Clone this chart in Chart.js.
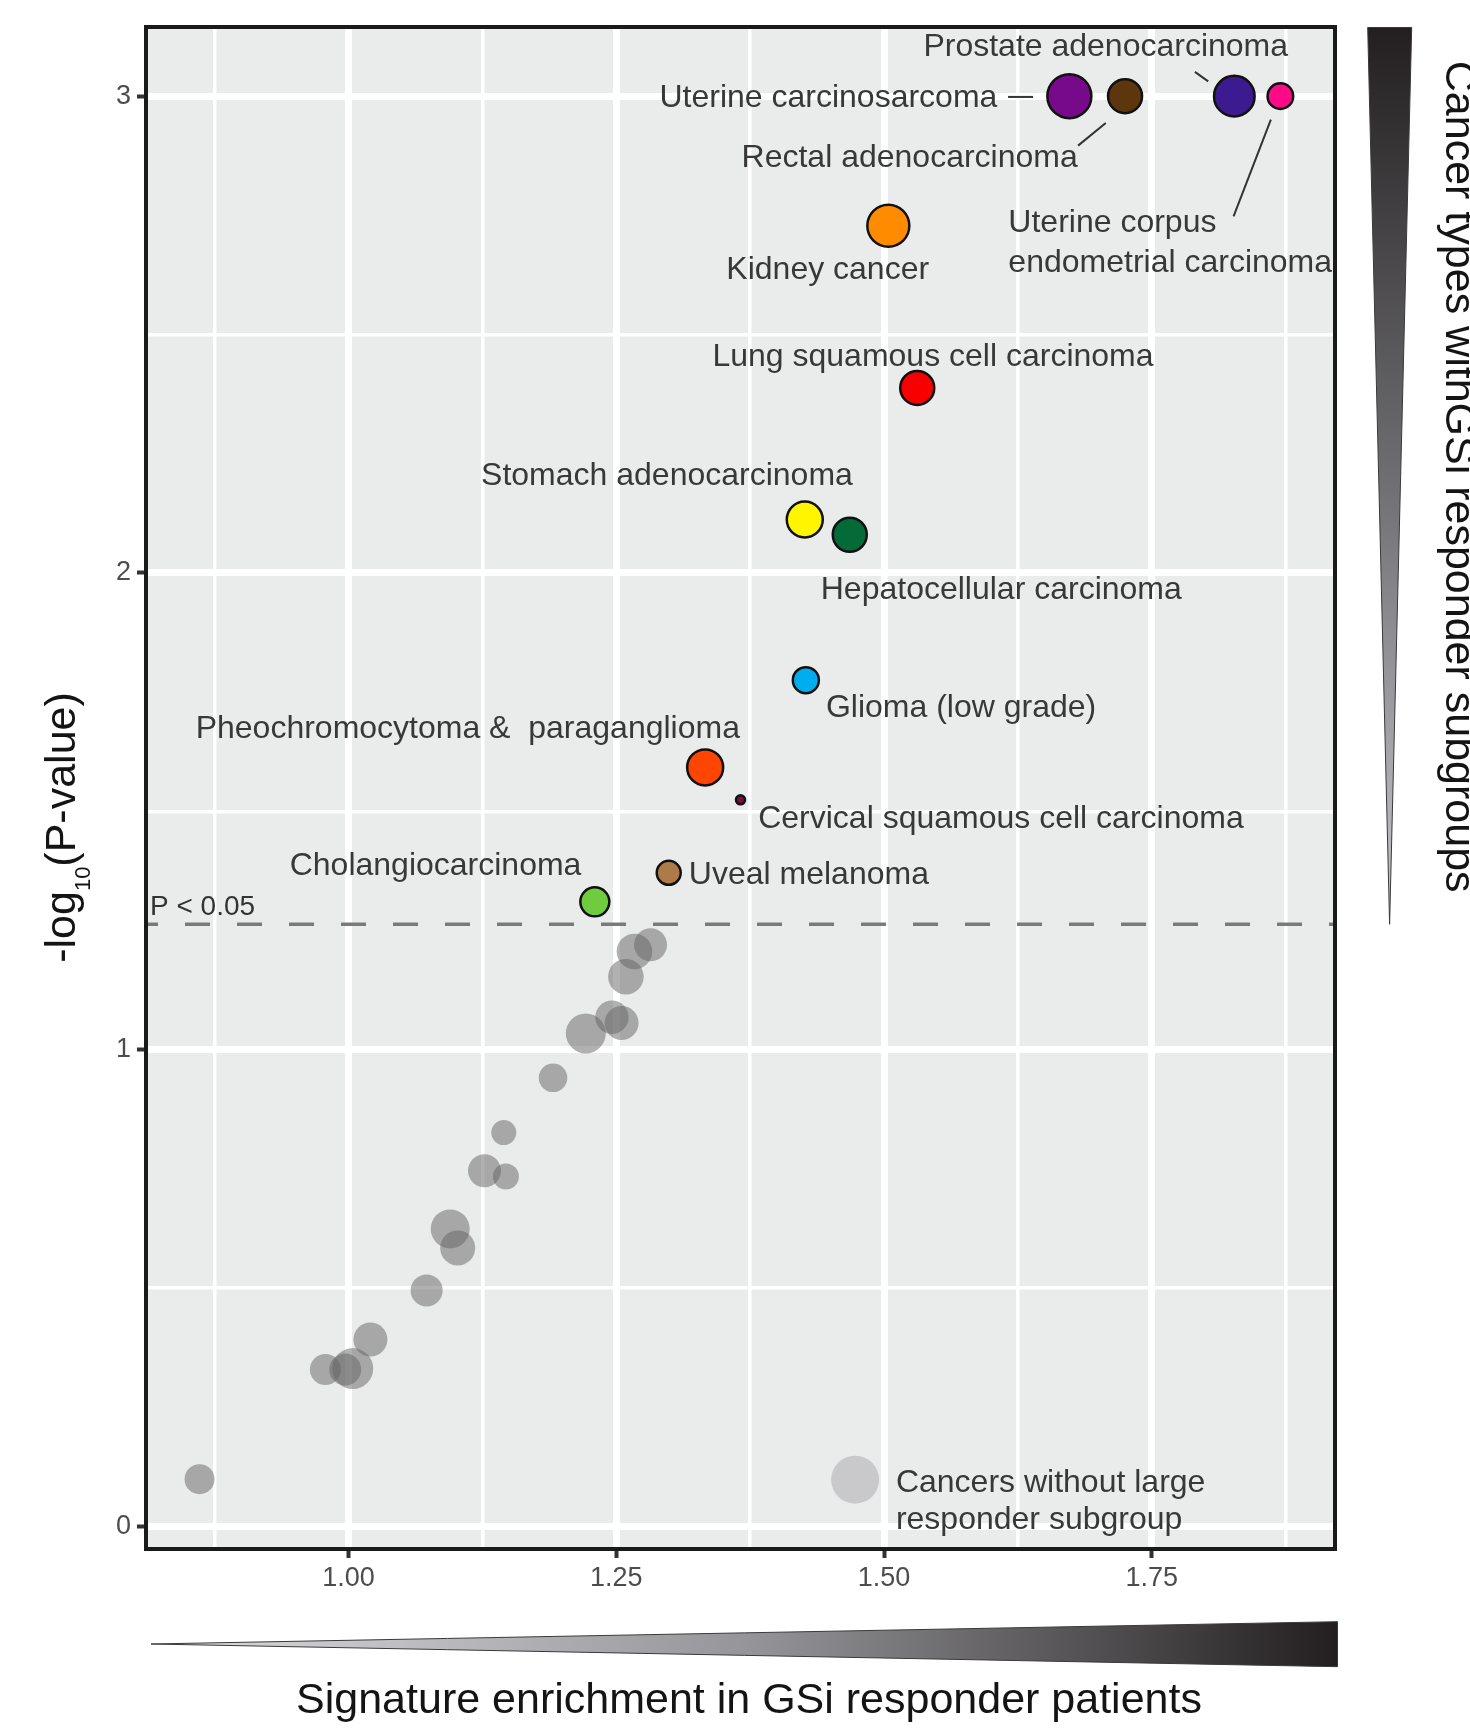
<!DOCTYPE html>
<html>
<head>
<meta charset="utf-8">
<title>GSi responder signature enrichment by cancer type</title>
<script src="https://cdn.jsdelivr.net/npm/chart.js@4.4.1/dist/chart.umd.min.js"></script>
<style>
  html, body { margin: 0; padding: 0; background: #ffffff; }
  #wrap { width: 1470px; height: 1728px; position: relative; }
</style>
</head>
<body>
<div id="wrap"><canvas id="chart"></canvas></div>
<script>
// ---- Cancer types with a large GSi responder subgroup ----
const cancerTypes = [
  'Uterine carcinosarcoma', 'Rectal adenocarcinoma', 'Prostate adenocarcinoma',
  'Uterine corpus endometrial carcinoma', 'Kidney cancer', 'Lung squamous cell carcinoma',
  'Stomach adenocarcinoma', 'Hepatocellular carcinoma', 'Glioma (low grade)',
  'Pheochromocytoma &  paraganglioma', 'Cervical squamous cell carcinoma',
  'Uveal melanoma', 'Cholangiocarcinoma'
];
const enrichment = [1.673, 1.725, 1.827, 1.870, 1.504, 1.531, 1.426, 1.468, 1.427, 1.333, 1.366, 1.299, 1.230];
const negLogP    = [3.000, 3.000, 3.000, 3.000, 2.728, 2.388, 2.112, 2.080, 1.775, 1.592, 1.524, 1.371, 1.310];

// ---- Cancer types without a large responder subgroup ----
const otherEnrichment = [0.861, 0.9785, 0.997, 1.004, 1.0205, 1.073, 1.095, 1.102, 1.127, 1.147, 1.145,
                         1.191, 1.2216, 1.246, 1.255, 1.282, 1.267, 1.259];
const otherNegLogP    = [0.099, 0.329, 0.329, 0.331, 0.392, 0.495, 0.624, 0.584, 0.746, 0.734, 0.826,
                         0.941, 1.034, 1.068, 1.056, 1.220, 1.206, 1.153];

// legend key point and its caption
const legendKeyX = [1.473];
const legendKeyY = [0.098];
const legendCaption = ['Cancers without large', 'responder subgroup'];

// significance threshold line
const thresholdY = 1.263;
const thresholdLabel = 'P < 0.05';

// axes
const xRange = [0.811, 1.921];
const yRange = [-0.0474, 3.145];
const xTickValues = [1.00, 1.25, 1.50, 1.75];
const xTickLabels = ['1.00', '1.25', '1.50', '1.75'];
const xMinorGrid  = [0.875, 1.125, 1.375, 1.625, 1.875];
const yTickValues = [0, 1, 2, 3];
const yTickLabels = ['0', '1', '2', '3'];
const yMinorGrid  = [0.5, 1.5, 2.5];

const xTitle = 'Signature enrichment in GSi responder patients';
const yTitleParts = ['-log', '10', '(P-value)'];
const sideTitle = 'Cancer types withGSi responder subgroups';

// ---- styling ----
const FONT = '"Liberation Sans", Arial, Helvetica, sans-serif';
const typeColors = ['#770A8B', '#5E360E', '#3B1B8F', '#FF0A87', '#FF8C00', '#F80000', '#FFF500',
                    '#046A38', '#00AEEF', '#FF4500', '#7A1040', '#AE7A48', '#6ECC3E'];
const typeRadius = [22, 17, 20.3, 12.8, 21, 17, 18, 17, 13, 18, 4.5, 12, 14.5];
const otherRadius = [15, 15.5, 16, 20.5, 17, 16, 19.5, 17.5, 16.5, 13, 12.5, 14.3, 20, 16.7, 17, 16.5, 17.8, 17.8];

// label placement, pixel offsets from each point (dy = first baseline)
const labelLayout = [
  { align: 'right',  dx: -72,    dy: 10.5,  leader: [-61.3, 0.8, -36.3, 0.8] },
  { align: 'right',  dx: -47.3,  dy: 71.1,  leader: [-19.3, 26.8, -47, 49.5] },
  { align: 'left',   dx: -310.9, dy: -39.9, leader: [-39.4, -24.2, -26.1, -14.8] },
  { align: 'left',   dx: -272,   dy: 135.5, leader: [-9.5, 23.5, -46.8, 120.2], breakAfter: 2 },
  { align: 'center', dx: -60.6,  dy: 52.8 },
  { align: 'left',   dx: -204.8, dy: -22.2 },
  { align: 'left',   dx: -323.7, dy: -34 },
  { align: 'left',   dx: -29,    dy: 64.4 },
  { align: 'left',   dx: 20.1,   dy: 37.3 },
  { align: 'right',  dx: 34.8,   dy: -29 },
  { align: 'left',   dx: 17.7,   dy: 28.3 },
  { align: 'left',   dx: 20.1,   dy: 11.6 },
  { align: 'right',  dx: -13.4,  dy: -27 }
];

function labelLines(name, layout) {
  if (!layout.breakAfter) return [name];
  const w = name.split(' ');
  return [w.slice(0, layout.breakAfter).join(' '), w.slice(layout.breakAfter).join(' ')];
}

const highlighted = cancerTypes.map((name, i) => ({ x: enrichment[i], y: negLogP[i], name }));
const others = otherEnrichment.map((x, i) => ({ x, y: otherNegLogP[i] }));
const legendKey = legendKeyX.map((x, i) => ({ x, y: legendKeyY[i] }));

const isIn = (arr, v) => arr.some(a => Math.abs(a - v) < 1e-9);

const decor = {
  id: 'decor',
  beforeDraw(chart) {
    const { ctx, chartArea: a } = chart;
    ctx.save();
    ctx.fillStyle = '#ffffff';
    ctx.fillRect(0, 0, chart.width, chart.height);
    ctx.fillStyle = '#EAEBEB';
    ctx.fillRect(a.left, a.top, a.right - a.left, a.bottom - a.top);
    ctx.restore();
  },
  beforeDatasetsDraw(chart) {
    const { ctx, chartArea: a, scales } = chart;
    const y = scales.y.getPixelForValue(thresholdY);
    ctx.save();
    ctx.strokeStyle = '#7A7A7A';
    ctx.lineWidth = 3.3;
    ctx.setLineDash([25, 27]);
    ctx.lineDashOffset = 13;
    ctx.beginPath();
    ctx.moveTo(a.left, y);
    ctx.lineTo(a.right, y);
    ctx.stroke();
    ctx.setLineDash([]);
    ctx.fillStyle = '#333333';
    ctx.font = '28px ' + FONT;
    ctx.textAlign = 'left';
    ctx.textBaseline = 'alphabetic';
    ctx.fillText(thresholdLabel, a.left + 4, y - 9.2);
    ctx.restore();
  },
  afterDatasetsDraw(chart) {
    const { ctx, chartArea: a, scales } = chart;
    const sx = scales.x, sy = scales.y;
    ctx.save();
    // panel border
    ctx.strokeStyle = '#1A1A1A';
    ctx.lineWidth = 4;
    ctx.strokeRect(a.left, a.top, a.right - a.left, a.bottom - a.top);

    // point labels and leader lines
    ctx.font = '32px ' + FONT;
    ctx.fillStyle = '#383838';
    ctx.textBaseline = 'alphabetic';
    ctx.strokeStyle = '#333333';
    ctx.lineWidth = 2;
    highlighted.forEach((p, i) => {
      const L = labelLayout[i];
      const px = sx.getPixelForValue(p.x), py = sy.getPixelForValue(p.y);
      ctx.textAlign = L.align;
      labelLines(p.name, L).forEach((line, k) => {
        ctx.fillText(line, px + L.dx, py + L.dy + k * 40.5);
      });
      if (L.leader) {
        ctx.beginPath();
        ctx.moveTo(px + L.leader[0], py + L.leader[1]);
        ctx.lineTo(px + L.leader[2], py + L.leader[3]);
        ctx.stroke();
      }
    });

    // legend caption
    const kx = sx.getPixelForValue(legendKeyX[0]), ky = sy.getPixelForValue(legendKeyY[0]);
    ctx.textAlign = 'left';
    legendCaption.forEach((line, k) => ctx.fillText(line, kx + 40.8, ky + 12.7 + k * 36.6));
    ctx.restore();
  },
  afterDraw(chart) {
    const { ctx, chartArea: a, scales } = chart;
    ctx.save();
    ctx.fillStyle = '#141414';

    // x title
    ctx.font = '43px ' + FONT;
    ctx.textAlign = 'center';
    ctx.textBaseline = 'alphabetic';
    ctx.fillText(xTitle, a.left + 603, a.bottom + 163.5);

    // y title with subscript
    ctx.save();
    ctx.translate(a.left - 71, a.top + 800.5);
    ctx.rotate(-Math.PI / 2);
    const parts = [[yTitleParts[0], 43, 0], [yTitleParts[1], 22, 15], [yTitleParts[2], 43, 0]];
    let total = 0;
    parts.forEach(p => { ctx.font = p[1] + 'px ' + FONT; total += ctx.measureText(p[0]).width; });
    let cx = -total / 2;
    ctx.textAlign = 'left';
    parts.forEach(p => {
      ctx.font = p[1] + 'px ' + FONT;
      ctx.fillText(p[0], cx, p[2]);
      cx += ctx.measureText(p[0]).width;
    });
    ctx.restore();

    // right-hand title (reads top to bottom)
    ctx.save();
    ctx.translate(a.right + 111, a.top + 33.8);
    ctx.rotate(Math.PI / 2);
    ctx.font = '43px ' + FONT;
    ctx.textAlign = 'left';
    ctx.fillText(sideTitle, 0, 0);
    ctx.restore();

    // vertical wedge: narrows down to the significance line
    const tipY = scales.y.getPixelForValue(thresholdY);
    const vg = ctx.createLinearGradient(0, a.top, 0, tipY);
    vg.addColorStop(0, '#231F20');
    vg.addColorStop(0.5, '#6E6E72');
    vg.addColorStop(1, '#C8C8CC');
    ctx.beginPath();
    ctx.moveTo(a.right + 32.7, a.top + 0.5);
    ctx.lineTo(a.right + 76.7, a.top + 0.5);
    ctx.lineTo(a.right + 54.6, tipY);
    ctx.closePath();
    ctx.fillStyle = vg;
    ctx.fill();
    ctx.strokeStyle = '#3A3A3A';
    ctx.lineWidth = 1;
    ctx.stroke();

    // horizontal wedge under the x axis
    const hg = ctx.createLinearGradient(a.left + 5, 0, a.right + 2.5, 0);
    hg.addColorStop(0, '#DCDCDF');
    hg.addColorStop(0.5, '#96969A');
    hg.addColorStop(1, '#231F20');
    ctx.beginPath();
    ctx.moveTo(a.left + 5, a.bottom + 95);
    ctx.lineTo(a.right + 2.5, a.bottom + 72.7);
    ctx.lineTo(a.right + 2.5, a.bottom + 117.7);
    ctx.closePath();
    ctx.fillStyle = hg;
    ctx.fill();
    ctx.stroke();
    ctx.restore();
  }
};

const gridWidth = (majors) => (c) => (c.tick && isIn(majors, c.tick.value)) ? 7 : 3.5;
const tickCol = (majors) => (c) => (c.tick && isIn(majors, c.tick.value)) ? '#333333' : 'rgba(0,0,0,0)';

new Chart(document.getElementById('chart'), {
  type: 'scatter',
  data: {
    datasets: [
      {
        label: 'Cancer types with GSi responder subgroups',
        data: highlighted,
        order: 0,
        pointRadius: typeRadius,
        pointBackgroundColor: typeColors,
        pointBorderColor: '#111111',
        pointBorderWidth: 2.5
      },
      {
        label: 'Legend key',
        data: legendKey,
        order: 1,
        pointRadius: 24,
        pointBackgroundColor: '#C9C9CB',
        pointBorderWidth: 0
      },
      {
        label: 'Cancers without large responder subgroup',
        data: others,
        order: 2,
        pointRadius: otherRadius,
        pointBackgroundColor: 'rgba(100,100,100,0.5)',
        pointBorderWidth: 0
      }
    ]
  },
  options: {
    responsive: true,
    maintainAspectRatio: false,
    devicePixelRatio: 1,
    animation: false,
    events: [],
    layout: { padding: { top: 27, right: 135, left: 0, bottom: 0 } },
    plugins: { legend: { display: false }, tooltip: { enabled: false } },
    scales: {
      x: {
        type: 'linear',
        min: xRange[0], max: xRange[1],
        afterBuildTicks: s => {
          s.ticks = xTickValues.concat(xMinorGrid).sort((p, q) => p - q).map(v => ({ value: v }));
        },
        afterFit: s => { s.height = 179; },
        border: { display: false },
        grid: {
          color: '#FFFFFF',
          lineWidth: gridWidth(xTickValues),
          tickColor: tickCol(xTickValues),
          tickWidth: 4,
          tickLength: 9
        },
        ticks: {
          autoSkip: false, maxRotation: 0, padding: 4,
          color: '#4D4D4D',
          font: { family: FONT, size: 27 },
          callback: v => { const k = xTickValues.findIndex(t => Math.abs(t - v) < 1e-9); return k >= 0 ? xTickLabels[k] : ''; }
        }
      },
      y: {
        type: 'linear',
        min: yRange[0], max: yRange[1],
        afterBuildTicks: s => {
          s.ticks = yTickValues.concat(yMinorGrid).sort((p, q) => p - q).map(v => ({ value: v }));
        },
        afterFit: s => { s.width = 146; },
        border: { display: false },
        grid: {
          color: '#FFFFFF',
          lineWidth: gridWidth(yTickValues),
          tickColor: tickCol(yTickValues),
          tickWidth: 4,
          tickLength: 9
        },
        ticks: {
          autoSkip: false, padding: 6,
          color: '#4D4D4D',
          font: { family: FONT, size: 27 },
          callback: v => { const k = yTickValues.findIndex(t => Math.abs(t - v) < 1e-9); return k >= 0 ? yTickLabels[k] : ''; }
        }
      }
    }
  },
  plugins: [decor]
});
</script>
</body>
</html>
